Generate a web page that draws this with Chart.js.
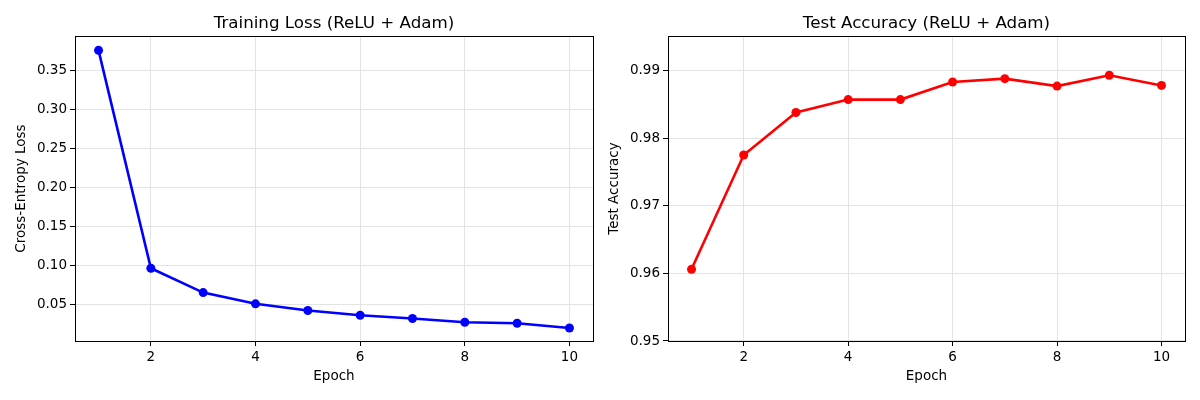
<!DOCTYPE html>
<html>
<head>
<meta charset="utf-8">
<script src="https://cdn.jsdelivr.net/npm/chart.js@4.4.1/dist/chart.umd.min.js"></script>
<style>
  body { margin: 0; background: #fff; }
  #wrap { position: relative; width: 1200px; height: 400px; }
  canvas { position: absolute; top: 0; }
</style>
</head>
<body>
<div id="wrap">
  <canvas id="lossChart" width="600" height="400" style="left:0"></canvas>
  <canvas id="accChart" width="600" height="400" style="left:600px"></canvas>
</div>
<script>
// data
const epochs = [1, 2, 3, 4, 5, 6, 7, 8, 9, 10];
const trainLoss = [0.3752, 0.0961, 0.0650, 0.0506, 0.0421, 0.0359, 0.0318, 0.0270, 0.0257, 0.0196];
const testAcc = [0.9606, 0.9775, 0.9838, 0.9857, 0.9857, 0.9883, 0.9888, 0.9877, 0.9893, 0.9878];

const FONT = "'DejaVu Sans', sans-serif";

// matplotlib-like frame around the plot area
const framePlugin = {
  id: 'frame',
  afterDraw(chart) {
    const a = chart.chartArea;
    const ctx = chart.ctx;
    ctx.save();
    ctx.strokeStyle = '#000';
    ctx.lineWidth = 1;
    ctx.strokeRect(Math.round(a.left) + 0.5, Math.round(a.top) + 0.5,
      Math.round(a.right - a.left), Math.round(a.bottom - a.top));
    ctx.restore();
  }
};

function makeChart(id, opts) {
  const pts = epochs.map((e, i) => ({ x: e, y: opts.values[i] }));
  return new Chart(document.getElementById(id), {
    type: 'line',
    data: {
      datasets: [{
        data: pts,
        borderColor: opts.color,
        backgroundColor: opts.color,
        borderWidth: 2.6,
        pointRadius: 4.5,
        pointBorderWidth: 0,
        pointBackgroundColor: opts.color,
        tension: 0
      }]
    },
    options: {
      responsive: false,
      animation: false,
      layout: { padding: { left: 0, right: opts.padRight, top: 0, bottom: 0 } },
      plugins: {
        legend: { display: false },
        tooltip: { enabled: false },
        title: {
          display: true,
          fullSize: false,
          text: opts.title,
          color: '#000',
          font: { family: FONT, size: 16.7, weight: 'normal' },
          padding: { top: 14, bottom: 2 }
        }
      },
      scales: {
        x: {
          type: 'linear',
          min: 0.55,
          max: 10.45,
          afterFit: s => { s.height = 59; },
          ticks: {
            stepSize: 2,
            includeBounds: false,
            color: '#000',
            padding: 3,
            font: { family: FONT, size: 13.5 }
          },
          grid: { color: '#e3e3e3', tickColor: '#000', tickLength: 5 },
          border: { display: false },
          title: {
            display: true,
            text: 'Epoch',
            color: '#000',
            font: { family: FONT, size: 13.5 },
            padding: { top: 0, bottom: 15 }
          }
        },
        y: {
          min: opts.yMin,
          max: opts.yMax,
          afterFit: s => { s.width = opts.yWidth; },
          ticks: {
            stepSize: opts.yStep,
            includeBounds: false,
            color: '#000',
            padding: 3,
            font: { family: FONT, size: 13.5 },
            callback: v => v.toFixed(2)
          },
          grid: { color: '#e3e3e3', tickColor: '#000', tickLength: 5 },
          border: { display: false },
          title: {
            display: true,
            text: opts.yLabel,
            color: '#000',
            font: { family: FONT, size: 13.5 },
            padding: { top: opts.yTitlePad, bottom: 0 }
          }
        }
      }
    },
    plugins: [framePlugin]
  });
}

makeChart('lossChart', {
  values: trainLoss,
  color: '#0000ff',
  title: 'Training Loss (ReLU + Adam)',
  yLabel: 'Cross-Entropy Loss',
  yMin: 0.003,
  yMax: 0.3935,
  yStep: 0.05,
  yWidth: 75,
  yTitlePad: 13,
  padRight: 7
});

makeChart('accChart', {
  values: testAcc,
  color: '#ff0000',
  title: 'Test Accuracy (ReLU + Adam)',
  yLabel: 'Test Accuracy',
  yMin: 0.95,
  yMax: 0.9951,
  yStep: 0.01,
  yWidth: 68,
  yTitlePad: 6,
  padRight: 15
});
</script>
</body>
</html>
